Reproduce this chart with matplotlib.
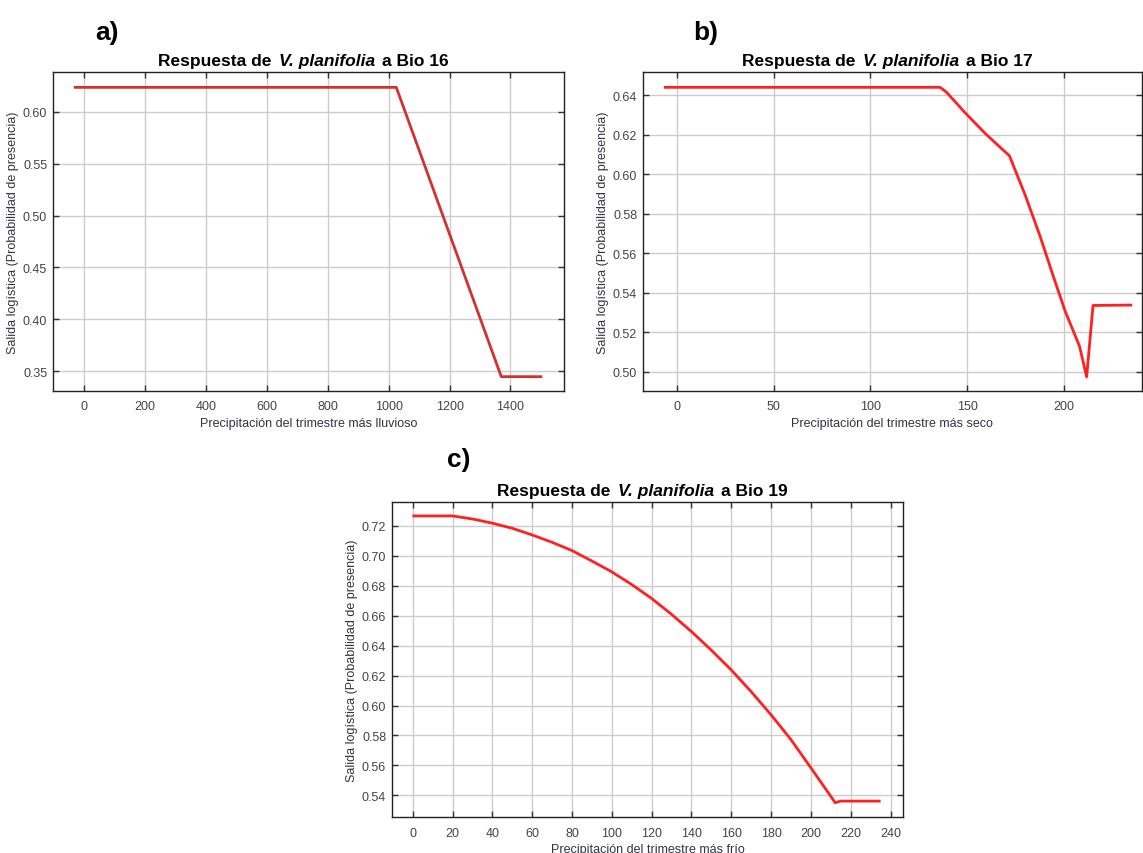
import numpy as np
import matplotlib
matplotlib.use("Agg")
import matplotlib.pyplot as plt
from matplotlib.offsetbox import TextArea, HPacker, AnnotationBbox

plt.rcParams["font.family"] = ["Liberation Sans", "DejaVu Sans"]

# Bio 16 - precipitation of wettest quarter
bio16_x = [-30, 1025, 1370, 1500]
bio16_y = [0.6234, 0.6234, 0.3449, 0.3449]

# Bio 17 - precipitation of driest quarter
bio17_x = [-6, 136, 139.3, 149.5, 159.7, 166.2, 171.8, 180.1, 187.6, 195, 200.6, 208, 211.7, 215, 234.5]
bio17_y = [0.6439, 0.6439, 0.6414, 0.6304, 0.6202, 0.6143, 0.6093, 0.5890, 0.5687, 0.5468,
           0.5307, 0.5130, 0.4975, 0.5336, 0.5338]

# Bio 19 - precipitation of coldest quarter
bio19_x = [0.5, 20, 30.2, 40.2, 50.1, 60, 70, 80.1, 90, 99.8, 109.9, 119.9, 130, 140, 149.9,
           160, 170, 180.1, 190.1, 200.2, 207.2, 212.2, 214.7, 234.3]
bio19_y = [0.7265, 0.7265, 0.7244, 0.7216, 0.7182, 0.7138, 0.7089, 0.7033, 0.6964, 0.6893,
           0.6808, 0.6715, 0.6608, 0.6493, 0.6370, 0.6237, 0.6092, 0.5936, 0.5770, 0.5580,
           0.5447, 0.5351, 0.5362, 0.5362]

W, H = 1143, 854
fig = plt.figure(figsize=(W / 100, H / 100), dpi=100)


def px_axes(left, top, right, bottom):
    return fig.add_axes([left / W, 1 - bottom / H, (right - left) / W, (bottom - top) / H])


def style(ax, bio, xlabel, xticks, yticks, xlim, ylim):
    ax.set_xlim(*xlim)
    ax.set_ylim(*ylim)
    ax.set_xticks(xticks)
    ax.set_yticks(yticks)
    ax.yaxis.set_major_formatter(plt.FormatStrFormatter("%.2f"))
    ax.grid(True, color="#cccccc", linewidth=1)
    ax.set_axisbelow(True)
    ax.tick_params(direction="in", length=4, width=1, color="#333333", labelcolor="#444444",
                   labelsize=9, top=True, right=True)
    ax.tick_params(axis="x", pad=7)
    ax.tick_params(axis="y", pad=4)
    for s in ax.spines.values():
        s.set_color("#222222")
        s.set_linewidth(1)
    ax.set_xlabel(xlabel, fontsize=9, color="#333344", labelpad=3)
    ax.set_ylabel("Salida logística (Probabilidad de presencia)", fontsize=9,
                  color="#333344", labelpad=3)
    parts = [
        TextArea("Respuesta de", textprops=dict(fontsize=12.5, fontweight="bold")),
        TextArea("V. planifolia", textprops=dict(fontsize=12.5, fontweight="bold", style="italic")),
        TextArea("a Bio %d" % bio, textprops=dict(fontsize=12.5, fontweight="bold")),
    ]
    box = HPacker(children=parts, align="baseline", pad=0, sep=5)
    ab = AnnotationBbox(box, (0.49, 1.0), xycoords="axes fraction", box_alignment=(0.5, 0),
                        xybox=(0, 3), boxcoords="offset points", frameon=False)
    ax.add_artist(ab)


ax_a = px_axes(52.7, 73.3, 564, 391.7)
ax_a.plot(bio16_x, bio16_y, color="#d43030", linewidth=2)
style(ax_a, 16, "Precipitación del trimestre más lluvioso",
      np.arange(0, 1401, 200), np.arange(0.35, 0.601, 0.05), (-104, 1576), (0.3314, 0.6379))

ax_b = px_axes(642.7, 73.3, 1142, 391.7)
ax_b.plot(bio17_x, bio17_y, color="#ff2020", linewidth=2)
style(ax_b, 17, "Precipitación del trimestre más seco",
      np.arange(0, 201, 50), np.arange(0.50, 0.641, 0.02), (-17.7, 240.3), (0.4905, 0.6515))

ax_c = px_axes(391.7, 502.7, 903.3, 818.3)
ax_c.plot(bio19_x, bio19_y, color="#ff2020", linewidth=2)
style(ax_c, 19, "Precipitación del trimestre más frío",
      np.arange(0, 241, 20), np.arange(0.54, 0.721, 0.02), (-10.6, 246.4), (0.5254, 0.736))

for lbl, x, y in [("a)", 95, 40), ("b)", 693, 40), ("c)", 447, 467)]:
    fig.text(x / W, 1 - y / H, lbl, fontsize=19, fontweight="bold", ha="left", va="baseline")

fig.savefig("out.png", dpi=100)
